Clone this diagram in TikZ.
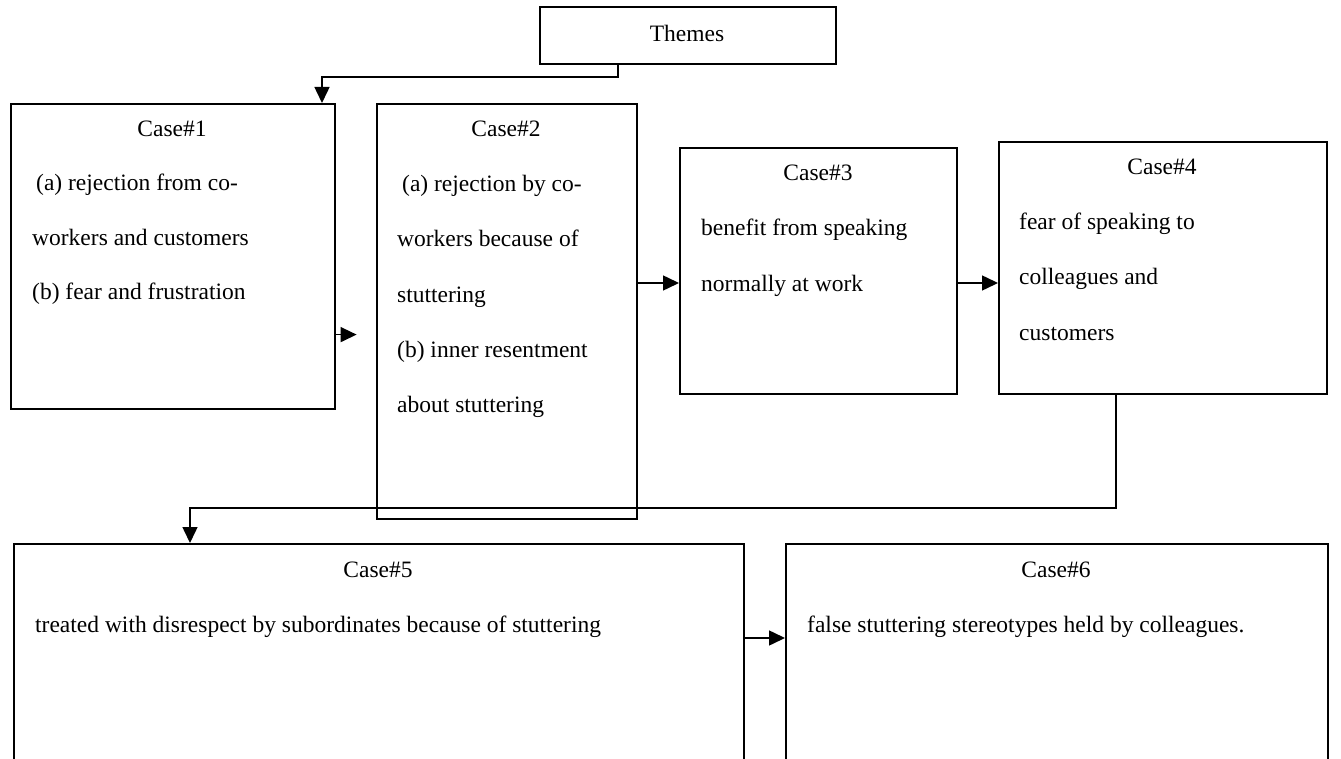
\documentclass[tikz,border=0pt]{standalone}
\usepackage{fontspec}
\setmainfont{Liberation Serif}
\usetikzlibrary{arrows.meta,calc}
\begin{document}
\begin{tikzpicture}[x=1pt,y=-1pt,
  box/.style={draw, line width=1.6pt, inner sep=0pt, anchor=north west},
  txt/.style={inner sep=0pt, anchor=base west, font=\fontsize{23.5}{28}\selectfont},
  ttl/.style={inner sep=0pt, anchor=base, font=\fontsize{23.5}{28}\selectfont},
  arr/.style={line width=1.5pt, -{Triangle[length=16pt,width=15pt]}}]
\clip (0,0) rectangle (1341,759);
\fill[white] (0,0) rectangle (1341,759);

% boxes
\node[box, minimum width=296pt, minimum height=57pt]  (themes) at (539,6) {};
\node[box, minimum width=324pt, minimum height=305pt] (c1) at (10,103) {};
\node[box, minimum width=260pt, minimum height=415pt] (c2) at (376,103) {};
\node[box, minimum width=277pt, minimum height=246pt] (c3) at (679,147) {};
\node[box, minimum width=328pt, minimum height=252pt] (c4) at (998,141) {};
\node[box, minimum width=730pt, minimum height=300pt] (c5) at (13,543) {};
\node[box, minimum width=542pt, minimum height=300pt] (c6) at (785,543) {};

% texts
\node[ttl] (tT) at (687,42) {Themes};

\node[ttl] (t1) at (172,137) {Case\#1};
\node[txt] (t1a) at (36,191) {(a) rejection from co-};
\node[txt] (t1b) at (32,246) {workers and customers};
\node[txt] (t1c) at (32,300) {(b) fear and frustration};

\node[ttl] (t2) at (506,137) {Case\#2};
\node[txt] (t2a) at (402,192) {(a) rejection by co-};
\node[txt] (t2b) at (397,247) {workers because of};
\node[txt] (t2c) at (397,302) {stuttering};
\node[txt] (t2d) at (397,357) {(b) inner resentment};
\node[txt] (t2e) at (397,412) {about stuttering};

\node[ttl] (t3) at (818,181) {Case\#3};
\node[txt] (t3a) at (701,236) {benefit from speaking};
\node[txt] (t3b) at (701,291) {normally at work};

\node[ttl] (t4) at (1162,175) {Case\#4};
\node[txt] (t4a) at (1019,230) {fear of speaking to};
\node[txt] (t4b) at (1019,285) {colleagues and};
\node[txt] (t4c) at (1019,340) {customers};

\node[ttl] (t5) at (378,577) {Case\#5};
\node[txt] (t5a) at (35,632) {treated with disrespect by subordinates because of stuttering};

\node[ttl] (t6) at (1056,577) {Case\#6};
\node[txt] (t6a) at (807,632) {false stuttering stereotypes held by colleagues.};

% connectors
\coordinate (k0) at (322,77);
\draw[arr] ($(themes.south west)+(79,0)$) |- (k0) -- (k0 |- c1.north);

\draw[arr] ($(c1.south east)+(0,-75)$) -- ++(21,0);

\coordinate (r1) at (0,283);
\draw[arr] (c2.east |- r1) -- (c3.west |- r1);
\draw[arr] (c3.east |- r1) -- (c4.west |- r1);

\coordinate (k1) at (190,508);
\draw[arr] (c4.south -| 1116,0) |- (k1) -- (k1 |- c5.north);

\coordinate (r2) at (0,638);
\draw[arr] (c5.east |- r2) -- (c6.west |- r2);
\end{tikzpicture}
\end{document}
